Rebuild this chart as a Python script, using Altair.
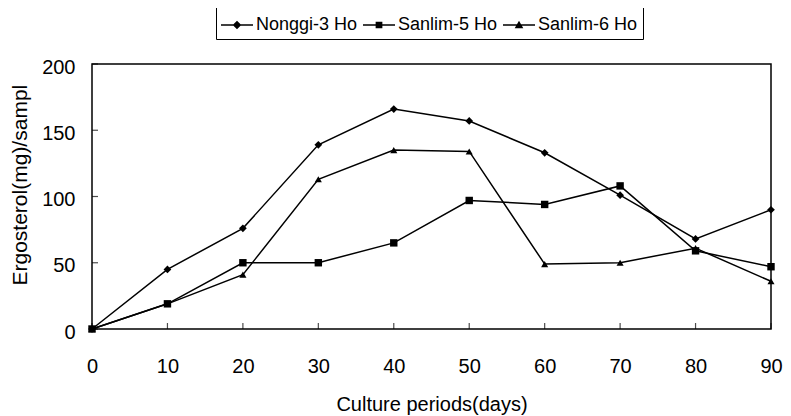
import altair as alt
import pandas as pd

days = [0, 10, 20, 30, 40, 50, 60, 70, 80, 90]
nonggi3 = [0, 45, 76, 139, 166, 157, 133, 101, 68, 90]
sanlim5 = [0, 19, 50, 50, 65, 97, 94, 108, 59, 47]
sanlim6 = [0, 19, 41, 113, 135, 134, 49, 50, 61, 36]
series_names = ["Nonggi-3 Ho", "Sanlim-5 Ho", "Sanlim-6 Ho"]
x_ticks = [0, 10, 20, 30, 40, 50, 60, 70, 80, 90]
y_ticks = [0, 50, 100, 150, 200]

rows = []
for name, vals in zip(series_names, [nonggi3, sanlim5, sanlim6]):
    for d, v in zip(days, vals):
        rows.append({"day": d, "value": v, "series": name})
df = pd.DataFrame(rows)

W, H = 679, 265
FONT = "Liberation Sans"

xscale = alt.Scale(domain=[0, 90], nice=False, zero=False)
yscale = alt.Scale(domain=[0, 200], nice=False)

xaxis = alt.Axis(values=x_ticks, title="Culture periods(days)", grid=False, domain=False,
                 tickSize=0, labelPadding=27, labelFontSize=20, labelFont=FONT,
                 labelColor="black", labelFlush=False, titleFont=FONT, titleFontSize=20,
                 titleFontWeight="normal", titleColor="black", titleY=75, titleBaseline="middle")
yaxis = alt.Axis(values=y_ticks, title="Ergosterol(mg)/sampl", grid=False, domain=False,
                 tickSize=0, labelPadding=17, labelFontSize=20, labelFont=FONT,
                 labelColor="black", labelFlush=False, labelOffset=3,
                 titleFont=FONT, titleFontSize=21, titleFontWeight="normal", titleColor="black",
                 titleAngle=270, titleAlign="left", titleBaseline="middle", titleX=-72, titleY=221)

base = alt.Chart(df)

lines = base.mark_line(color="black", strokeWidth=1.5).encode(
    x=alt.X("day:Q", scale=xscale, axis=xaxis),
    y=alt.Y("value:Q", scale=yscale, axis=yaxis),
    detail="series:N",
    order="day:Q",
)

points = base.mark_point(filled=True, color="black", opacity=1).encode(
    x=alt.X("day:Q", scale=xscale, axis=xaxis),
    y=alt.Y("value:Q", scale=yscale, axis=yaxis),
    shape=alt.Shape("series:N", scale=alt.Scale(domain=series_names,
                    range=["diamond", "square", "triangle-up"]), legend=None),
    size=alt.Size("series:N", scale=alt.Scale(domain=series_names, range=[60, 50, 55]), legend=None),
)

stub = "M-1,-0.05H1V0.05H-1Z"
legend_paths = [
    stub + "M0,-0.27L0.27,0L0,0.27L-0.27,0Z",
    stub + "M-0.21,-0.21H0.21V0.21H-0.21Z",
    stub + "M0,-0.27L0.27,0.2H-0.27Z",
]

legend_layer = base.transform_filter("datum.day < 0").mark_point(
    filled=True, color="black", opacity=1
).encode(
    x=alt.X("day:Q", scale=xscale, axis=xaxis),
    y=alt.Y("value:Q", scale=yscale, axis=yaxis),
    shape=alt.Shape(
        "series:N",
        scale=alt.Scale(domain=series_names, range=legend_paths),
        legend=alt.Legend(
            title=None, orient="none", legendX=124, legendY=-60, direction="horizontal",
            fillColor="white", strokeColor="black", padding=5, symbolSize=1024,
            symbolFillColor="black", symbolStrokeWidth=0, symbolOpacity=1,
            labelFont=FONT, labelFontSize=18, labelColor="black", labelOffset=3,
            columnPadding=5,
        ),
    ),
)

ytick_df = pd.DataFrame({"value": y_ticks})
xtick_df = pd.DataFrame({"day": x_ticks})

yticks = alt.Chart(ytick_df).mark_tick(orient="horizontal", size=6, thickness=1.2, color="black").encode(
    y=alt.Y("value:Q", scale=yscale, axis=yaxis),
    x=alt.value(3),
)
xticks = alt.Chart(xtick_df).mark_tick(orient="vertical", size=6, thickness=1.2, color="black").encode(
    x=alt.X("day:Q", scale=xscale, axis=xaxis),
    y=alt.value(H - 3),
)

chart = alt.layer(lines, points, legend_layer, yticks, xticks).resolve_scale(
    shape="independent", size="independent"
).properties(
    width=W, height=H,
    background="white",
    autosize=alt.AutoSizeParams(type="none"),
    padding={"left": 84, "top": 56, "right": 12, "bottom": 86},
).configure_view(
    stroke="black", strokeWidth=1.5
)

chart.save("out.html", embed_options={"renderer": "svg", "actions": False})
